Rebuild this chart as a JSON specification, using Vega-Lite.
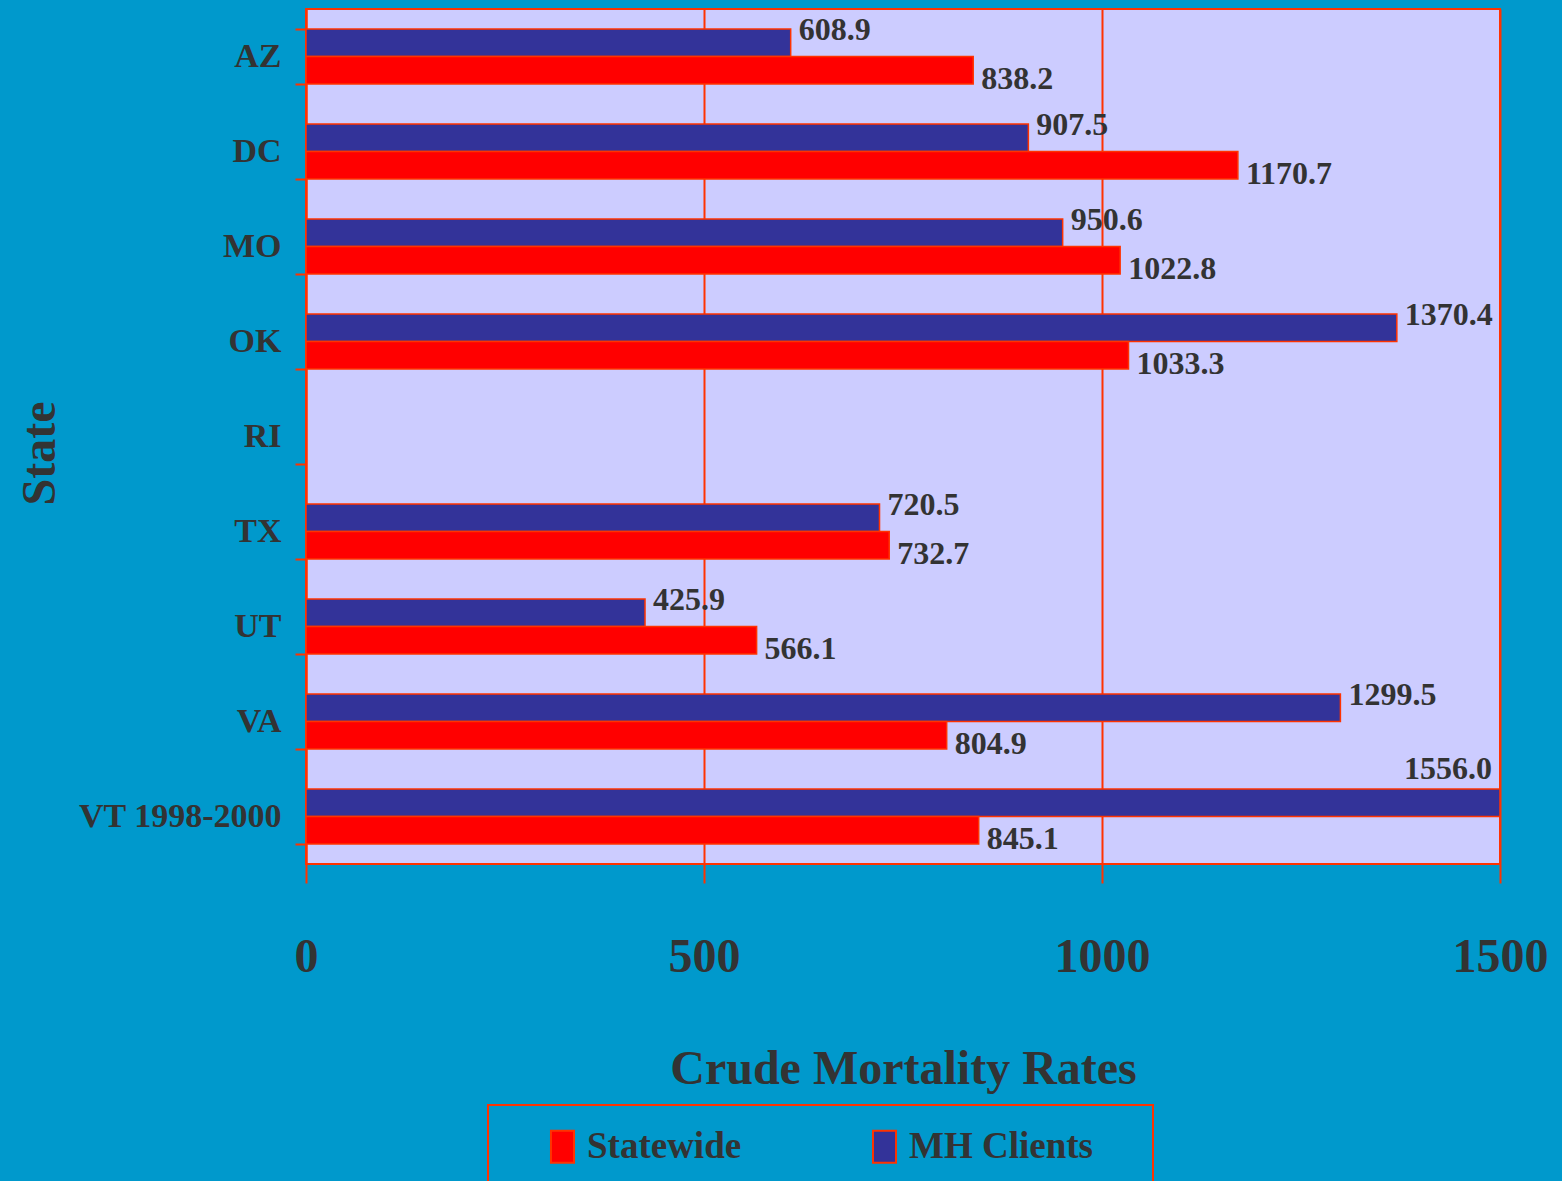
{
  "$schema": "https://vega.github.io/schema/vega-lite/v6.json",
  "width": 1194,
  "height": 855,
  "autosize": {"type": "none"},
  "padding": {"left": 306, "top": 9, "right": 62, "bottom": 317},
  "background": "#0099CC",
  "config": {
    "view": {"fill": "#CCCCFF", "stroke": "#FF3300", "strokeWidth": 2},
    "font": "Liberation Serif",
    "text": {"font": "Liberation Serif"},
    "legend": {"strokeWidth": 2}
  },
  "data": {
    "values": [
      {"state": "AZ", "series": "MH Clients", "value": 608.9},
      {"state": "AZ", "series": "Statewide", "value": 838.2},
      {"state": "DC", "series": "MH Clients", "value": 907.5},
      {"state": "DC", "series": "Statewide", "value": 1170.7},
      {"state": "MO", "series": "MH Clients", "value": 950.6},
      {"state": "MO", "series": "Statewide", "value": 1022.8},
      {"state": "OK", "series": "MH Clients", "value": 1370.4},
      {"state": "OK", "series": "Statewide", "value": 1033.3},
      {"state": "TX", "series": "MH Clients", "value": 720.5},
      {"state": "TX", "series": "Statewide", "value": 732.7},
      {"state": "UT", "series": "MH Clients", "value": 425.9},
      {"state": "UT", "series": "Statewide", "value": 566.1},
      {"state": "VA", "series": "MH Clients", "value": 1299.5},
      {"state": "VA", "series": "Statewide", "value": 804.9},
      {"state": "VT 1998-2000", "series": "MH Clients", "value": 1556.0},
      {"state": "VT 1998-2000", "series": "Statewide", "value": 845.1}
    ]
  },
  "encoding": {
    "y": {
      "field": "state",
      "type": "nominal",
      "scale": {
        "domain": ["AZ", "DC", "MO", "OK", "RI", "TX", "UT", "VA", "VT 1998-2000"],
        "paddingInner": 0.42,
        "paddingOuter": 0.21
      },
      "axis": {
        "title": "State",
        "titleFont": "Liberation Serif",
        "titleFontSize": 48,
        "titleFontWeight": "bold",
        "titleColor": "#333333",
        "titleAngle": -90,
        "titleX": -266,
        "titleY": 444,
        "titleAlign": "center",
        "titleBaseline": "middle",
        "labelFont": "Liberation Serif",
        "labelFontSize": 34,
        "labelFontWeight": "bold",
        "labelColor": "#333333",
        "labelPadding": 14,
        "labelLimit": 0,
        "tickSize": 11,
        "tickColor": "#FF3300",
        "tickWidth": 2,
        "tickBand": "extent",
        "domainColor": "#FF3300",
        "domainWidth": 2,
        "grid": false
      }
    },
    "yOffset": {
      "field": "series",
      "type": "nominal",
      "scale": {"domain": ["MH Clients", "Statewide"], "paddingInner": 0, "paddingOuter": 0}
    },
    "x": {
      "field": "value",
      "type": "quantitative",
      "scale": {"domain": [0, 1500], "nice": false, "clamp": true},
      "axis": {
        "title": "Crude Mortality Rates",
        "titleFont": "Liberation Serif",
        "titleFontSize": 48,
        "titleFontWeight": "bold",
        "titleColor": "#333333",
        "titleY": 219,
        "titleBaseline": "alphabetic",
        "values": [0, 500, 1000, 1500],
        "format": "d",
        "labelFont": "Liberation Serif",
        "labelFontSize": 48,
        "labelFontWeight": "bold",
        "labelColor": "#333333",
        "labelBaseline": "alphabetic",
        "labelPadding": 88,
        "labelFlush": false,
        "labelOverlap": false,
        "tickSize": 19,
        "tickColor": "#FF3300",
        "tickWidth": 2,
        "grid": true,
        "gridColor": "#FF3300",
        "gridWidth": 2,
        "gridOpacity": 1,
        "domain": false
      }
    }
  },
  "layer": [
    {
      "mark": {"type": "bar", "stroke": "#FF3300", "strokeWidth": 1.5},
      "encoding": {
        "color": {
          "field": "series",
          "type": "nominal",
          "scale": {"domain": ["Statewide", "MH Clients"], "range": ["#FF0000", "#333399"]},
          "legend": {
            "orient": "none",
            "legendX": 182,
            "legendY": 1096,
            "direction": "horizontal",
            "title": null,
            "padding": 23,
            "strokeColor": "#FF3300",
            "symbolType": "M-0.72,-1H0.72V1H-0.72Z",
            "symbolSize": 1024,
            "symbolStrokeColor": "#FF3300",
            "symbolStrokeWidth": 2,
            "symbolOffset": 33,
            "labelOffset": 6,
            "columnPadding": 91,
            "labelFont": "Liberation Serif",
            "labelFontSize": 37,
            "labelFontWeight": "bold",
            "labelColor": "#333333",
            "labelLimit": 0,
            "labelExpr": "datum.label == 'MH Clients' ? datum.label + '    \u200b' : datum.label"
          }
        }
      }
    },
    {
      "transform": [{"filter": "datum.series == 'MH Clients' && datum.value <= 1500"}],
      "mark": {"type": "text", "align": "left", "baseline": "middle", "dx": 8, "dy": -13, "fontSize": 32, "fontWeight": "bold", "color": "#333333"},
      "encoding": {"text": {"field": "value", "type": "quantitative", "format": ".1f"}}
    },
    {
      "transform": [{"filter": "datum.series == 'Statewide'"}],
      "mark": {"type": "text", "align": "left", "baseline": "middle", "dx": 8, "dy": 9, "fontSize": 32, "fontWeight": "bold", "color": "#333333"},
      "encoding": {"text": {"field": "value", "type": "quantitative", "format": ".1f"}}
    },
    {
      "transform": [{"filter": "datum.value > 1500"}],
      "mark": {"type": "text", "align": "right", "baseline": "middle", "dx": -8, "dy": -34, "fontSize": 32, "fontWeight": "bold", "color": "#333333"},
      "encoding": {"text": {"field": "value", "type": "quantitative", "format": ".1f"}}
    }
  ]
}
